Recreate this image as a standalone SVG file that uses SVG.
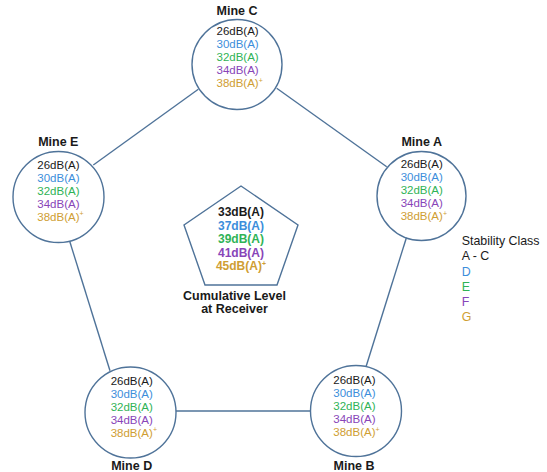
<svg xmlns="http://www.w3.org/2000/svg" width="547" height="472" viewBox="0 0 547 472">
<style>
text{font-family:"Liberation Sans",Arial,sans-serif}
.node{fill:#fff;stroke:#4f7399;stroke-width:1.4}
.conn line{stroke:#4f7399;stroke-width:1.4}
.t{font-weight:bold;font-size:12.5px;fill:#1a1a1a;text-anchor:middle}
.v{font-size:11.5px}
.b{font-weight:bold;font-size:12px;text-anchor:middle}
.k{fill:#1a1a1a}.d{fill:#3c8edb}.e{fill:#2fb356}.f{fill:#8845b8}.g{fill:#cf9e33}
.lg{font-size:12.4px}
.sup{font-size:7px}
</style>
<rect width="547" height="472" fill="#fff"/>
<g class="conn">
<line x1="276.7" y1="88.3" x2="386.7" y2="166.7"/>
<line x1="198.3" y1="89.3" x2="93.3" y2="165"/>
<line x1="69.3" y1="240" x2="110" y2="370.7"/>
<line x1="406.7" y1="236.7" x2="366" y2="366.7"/>
<line x1="176" y1="411" x2="310.7" y2="411"/>
</g>
<g id="mineC">
<circle class="node" cx="237" cy="64.5" r="45"/>
<text class="t" x="237" y="14.5">Mine C</text>
<text class="v k" x="216.5" y="35">26dB(A)</text>
<text class="v d" x="216.5" y="48">30dB(A)</text>
<text class="v e" x="216.5" y="61">32dB(A)</text>
<text class="v f" x="216.5" y="74">34dB(A)</text>
<text class="v g" x="216.5" y="87">38dB(A)<tspan class="sup" dy="-4.5">+</tspan></text>
</g>
<g id="mineA">
<circle class="node" cx="421.5" cy="196" r="44.5"/>
<text class="t" x="421.7" y="146">Mine A</text>
<text class="v k" x="400.7" y="168">26dB(A)</text>
<text class="v d" x="400.7" y="181">30dB(A)</text>
<text class="v e" x="400.7" y="194">32dB(A)</text>
<text class="v f" x="400.7" y="207">34dB(A)</text>
<text class="v g" x="400.7" y="220">38dB(A)<tspan class="sup" dy="-4.5">+</tspan></text>
</g>
<g id="mineE">
<circle class="node" cx="58.5" cy="197" r="45.5"/>
<text class="t" x="58.3" y="146">Mine E</text>
<text class="v k" x="37.3" y="168.5">26dB(A)</text>
<text class="v d" x="37.3" y="181.5">30dB(A)</text>
<text class="v e" x="37.3" y="194.5">32dB(A)</text>
<text class="v f" x="37.3" y="207.5">34dB(A)</text>
<text class="v g" x="37.3" y="220.5">38dB(A)<tspan class="sup" dy="-4.5">+</tspan></text>
</g>
<g id="mineD">
<circle class="node" cx="130.5" cy="412.5" r="45.5"/>
<text class="t" x="131.7" y="470">Mine D</text>
<text class="v k" x="110.7" y="384.5">26dB(A)</text>
<text class="v d" x="110.7" y="397.5">30dB(A)</text>
<text class="v e" x="110.7" y="410.5">32dB(A)</text>
<text class="v f" x="110.7" y="423.5">34dB(A)</text>
<text class="v g" x="110.7" y="436.5">38dB(A)<tspan class="sup" dy="-4.5">+</tspan></text>
</g>
<g id="mineB">
<circle class="node" cx="356" cy="411" r="45.5"/>
<text class="t" x="354" y="470">Mine B</text>
<text class="v k" x="333.3" y="384">26dB(A)</text>
<text class="v d" x="333.3" y="397">30dB(A)</text>
<text class="v e" x="333.3" y="410">32dB(A)</text>
<text class="v f" x="333.3" y="423">34dB(A)</text>
<text class="v g" x="333.3" y="436">38dB(A)<tspan class="sup" dy="-4.5">+</tspan></text>
</g>
<g id="receiver">
<polygon class="node" points="241,186 298,225 277,285 205,285 184,225"/>
<text class="b k" x="241" y="216">33dB(A)</text>
<text class="b d" x="241" y="229.5">37dB(A)</text>
<text class="b e" x="241" y="243">39dB(A)</text>
<text class="b f" x="241" y="256.5">41dB(A)</text>
<text class="b g" x="241" y="270">45dB(A)<tspan class="sup" dy="-4.5">+</tspan></text>
<text class="t" x="234.5" y="299.5">Cumulative Level</text>
<text class="t" x="234.5" y="313">at Receiver</text>
</g>
<g id="legend">
<text class="lg k" x="461.7" y="244.5">Stability Class</text>
<text class="lg k" x="461.7" y="260">A - C</text>
<text class="lg d" x="461.7" y="275.5">D</text>
<text class="lg e" x="461.7" y="290.5">E</text>
<text class="lg f" x="461.7" y="305.5">F</text>
<text class="lg g" x="461.7" y="321">G</text>
</g>
</svg>
